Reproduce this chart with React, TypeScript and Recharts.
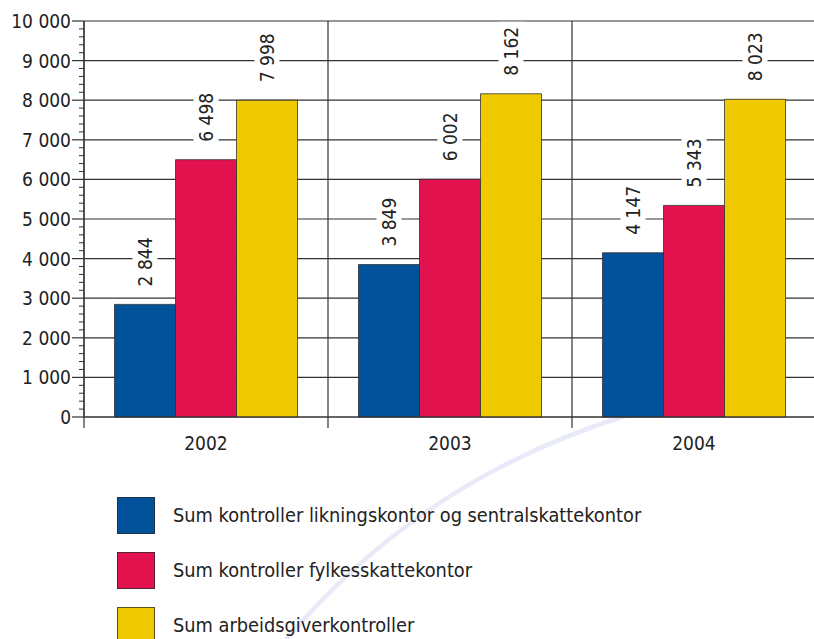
import { BarChart, Bar, XAxis, YAxis, CartesianGrid, LabelList } from 'recharts';

const years = ['2002', '2003', '2004'];
const likningskontor = [2844, 3849, 4147];
const fylkesskattekontor = [6498, 6002, 5343];
const arbeidsgiver = [7998, 8162, 8023];

const seriesNames = [
  'Sum kontroller likningskontor og sentralskattekontor',
  'Sum kontroller fylkesskattekontor',
  'Sum arbeidsgiverkontroller',
];
const seriesKeys = ['lik', 'fylke', 'arb'];
const colors = ['#02529b', '#e2124f', '#f0ca00'];

const yMax = 10000;
const majorTicks = [0, 1000, 2000, 3000, 4000, 5000, 6000, 7000, 8000, 9000, 10000];
const minorStep = 200;

const FONT = '"DejaVu Sans Condensed", "DejaVu Sans", sans-serif';
const INK = '#222';
const LINE = '#333';

const data = years.map((year, i) => ({
  year,
  lik: likningskontor[i],
  fylke: fylkesskattekontor[i],
  arb: arbeidsgiver[i],
}));

const allTicks: number[] = [];
for (let v = 0; v <= yMax; v += minorStep) allTicks.push(v);

// "10 000" style
const fmt = (v: number) => String(v).replace(/\B(?=(\d{3})+(?!\d))/g, ' ');

function YTick(props: any) {
  const { x, y, payload } = props;
  const major = payload.value % 1000 === 0;
  if (!major) {
    return <line x1={x + 7} x2={x + 12} y1={y} y2={y} stroke={LINE} strokeWidth={1} />;
  }
  return (
    <g>
      <line x1={x} x2={x + 12} y1={y} y2={y} stroke={LINE} strokeWidth={1.2} />
      <text x={x - 1} y={y} textAnchor="end" dominantBaseline="central" fill={INK} fontSize={19} fontFamily={FONT}>
        {fmt(payload.value)}
      </text>
    </g>
  );
}

function XTick(props: any) {
  const { x, y, payload } = props;
  const half = payload.offset ?? 0;
  return (
    <g>
      <line x1={x - half} x2={x - half} y1={y} y2={y + 11} stroke={LINE} strokeWidth={1.2} />
      <text x={x} y={y + 33} textAnchor="middle" fill={INK} fontSize={19} fontFamily={FONT}>
        {payload.value}
      </text>
    </g>
  );
}

function ValueLabel(props: any) {
  const { x, y, width, value } = props;
  const text = fmt(value);
  const len = text.replace(/ /g, '').length * 10.9 + (text.length - text.replace(/ /g, '').length) * 5.4;
  const cx = x + width / 2;
  return (
    <g transform={`translate(${cx}, ${y - 18}) rotate(-90)`}>
      <rect x={-5} y={-12.5} width={len + 10} height={25} fill="#fff" />
      <text x={0} y={0} textAnchor="start" dominantBaseline="central" fill={INK} fontSize={19} fontFamily={FONT}>
        {text}
      </text>
    </g>
  );
}

export default function App() {
  return (
    <div
      style={{
        position: 'absolute',
        left: 0,
        top: 0,
        width: 814,
        height: 639,
        overflow: 'hidden',
        background: '#fff',
        fontFamily: FONT,
      }}
    >
      <svg width={814} height={639} style={{ position: 'absolute', left: 0, top: 0 }}>
        <path d="M 285 641 Q 420 480 625 416" fill="none" stroke="#e8eaf7" strokeWidth={4.5} />
      </svg>
      <div style={{ position: 'absolute', left: 0, top: 0 }}>
        <BarChart
          width={816}
          height={470}
          data={data}
          margin={{ top: 21, right: 0, bottom: 0, left: 0 }}
          barCategoryGap="12.5%"
          barGap={0}
        >
          <CartesianGrid
            stroke={LINE}
            strokeWidth={1.2}
            horizontalCoordinatesGenerator={({ offset }: any) =>
              majorTicks.map((v) => offset.top + offset.height * (1 - v / yMax))
            }
            verticalCoordinatesGenerator={({ offset }: any) =>
              years.map((_, i) => offset.left + (i * offset.width) / years.length)
            }
          />
          <XAxis
            dataKey="year"
            interval={0}
            tickLine={false}
            tickSize={0}
            tickMargin={0}
            height={53}
            axisLine={{ stroke: LINE, strokeWidth: 1.2 }}
            tick={<XTick />}
          />
          <YAxis
            domain={[0, yMax]}
            ticks={allTicks}
            interval={0}
            width={84}
            tickLine={false}
            tickSize={12}
            tickMargin={0}
            axisLine={{ stroke: LINE, strokeWidth: 1.2 }}
            tick={<YTick />}
          />
          {seriesKeys.map((key, i) => (
            <Bar
              key={key}
              dataKey={key}
              name={seriesNames[i]}
              fill={colors[i]}
              stroke="rgba(40,40,40,0.75)"
              strokeWidth={1}
              isAnimationActive={false}
            >
              <LabelList dataKey={key} content={<ValueLabel />} />
            </Bar>
          ))}
        </BarChart>
      </div>
      {seriesNames.map((name, i) => (
        <div key={name} style={{ position: 'absolute', left: 117, top: 497 + i * 55, height: 37, display: 'flex', alignItems: 'center' }}>
          <div
            style={{
              width: 36,
              height: 35,
              background: colors[i],
              border: '1px solid rgba(40,40,40,0.75)',
            }}
          />
          <span style={{ marginLeft: 18, fontSize: 19.8, color: INK, whiteSpace: 'nowrap' }}>{name}</span>
        </div>
      ))}
    </div>
  );
}
